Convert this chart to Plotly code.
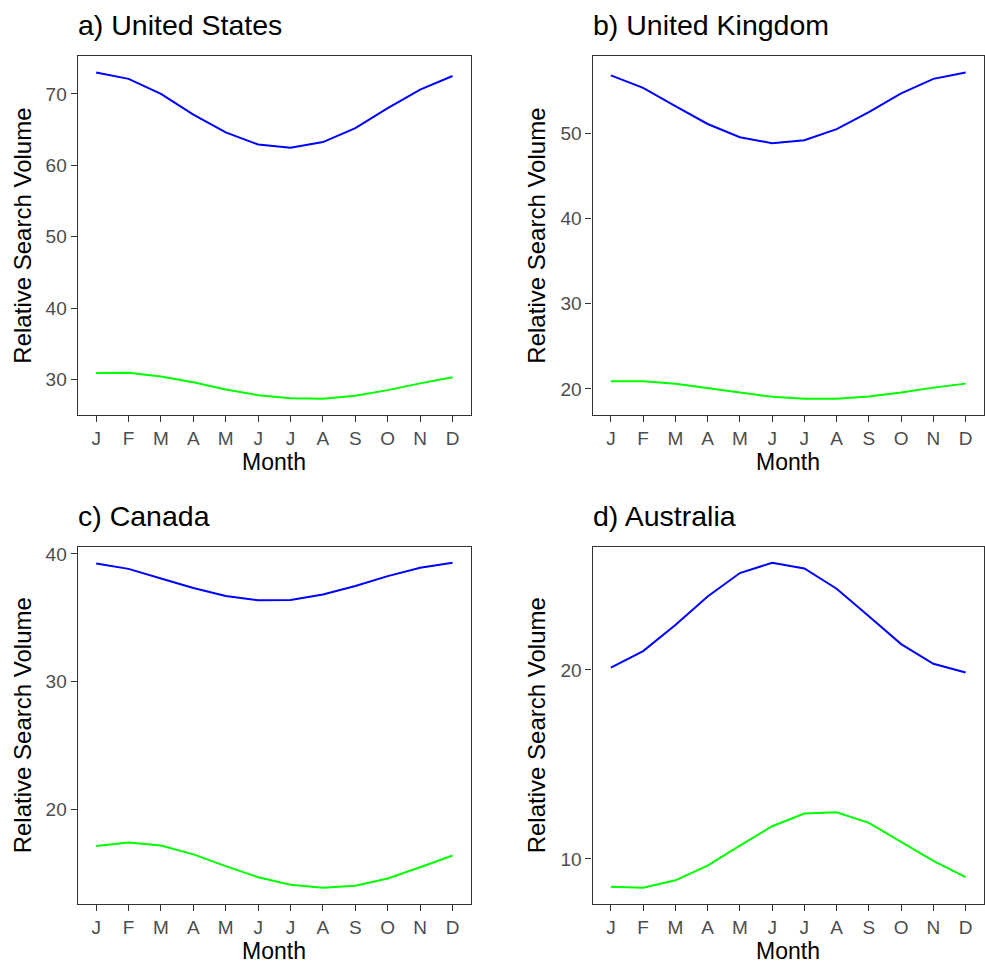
import plotly.graph_objects as go

months = ["J", "F", "M", "A", "M", "J", "J", "A", "S", "O", "N", "D"]

titles = ["a) United States", "b) United Kingdom", "c) Canada", "d) Australia"]

us_blue = [73.0, 72.1, 70.0, 67.1, 64.6, 62.9, 62.45, 63.25, 65.2, 68.0, 70.6, 72.5]
us_green = [30.9, 30.95, 30.4, 29.6, 28.6, 27.8, 27.35, 27.3, 27.7, 28.5, 29.45, 30.3]

uk_blue = [56.8, 55.35, 53.2, 51.1, 49.55, 48.85, 49.2, 50.5, 52.5, 54.7, 56.4, 57.15]
uk_green = [20.9, 20.9, 20.6, 20.1, 19.55, 19.07, 18.85, 18.85, 19.1, 19.57, 20.15, 20.62]

ca_blue = [39.25, 38.83, 38.08, 37.33, 36.71, 36.37, 36.4, 36.82, 37.49, 38.26, 38.91, 39.3]
ca_green = [17.15, 17.43, 17.2, 16.5, 15.58, 14.72, 14.13, 13.9, 14.05, 14.62, 15.5, 16.41]

au_blue = [20.12, 21.0, 22.38, 23.89, 25.13, 25.67, 25.37, 24.3, 22.84, 21.37, 20.33, 19.87]
au_green = [8.53, 8.48, 8.87, 9.65, 10.7, 11.73, 12.4, 12.47, 11.91, 10.91, 9.9, 9.04]

panels = [(us_blue, us_green), (uk_blue, uk_green), (ca_blue, ca_green), (au_blue, au_green)]

W, H = 985, 965
xdom = [[77.7 / W, 471 / W], [592.5 / W, 984 / W]]
ydom = [[1 - 413.3 / H, 1 - 53.3 / H], [1 - 903.7 / H, 1 - 545.3 / H]]

FONT = "Liberation Sans, Arial, Helvetica, sans-serif"
xs = list(range(len(months)))

fig = go.Figure()
layout = dict(
    width=W, height=H,
    margin=dict(l=0, r=0, t=0, b=0),
    paper_bgcolor="white", plot_bgcolor="white",
    showlegend=False,
    font=dict(family=FONT),
    annotations=[],
)

for i, (blue, green) in enumerate(panels):
    r, c = divmod(i, 2)
    sfx = "" if i == 0 else str(i + 1)
    fig.add_trace(go.Scatter(x=xs, y=blue, mode="lines", line=dict(color="#0000FF", width=2),
                             xaxis="x" + sfx, yaxis="y" + sfx))
    fig.add_trace(go.Scatter(x=xs, y=green, mode="lines", line=dict(color="#00FF00", width=2),
                             xaxis="x" + sfx, yaxis="y" + sfx))
    lo = min(min(blue), min(green))
    hi = max(max(blue), max(green))
    pad = 0.05 * (hi - lo)
    axis_common = dict(
        showline=True, linecolor="#333333", linewidth=1.3, mirror=True,
        showgrid=False, zeroline=False,
        ticks="outside", ticklen=6, tickwidth=1.3, tickcolor="#333333",
        tickfont=dict(family=FONT, size=19, color="#4D4D4D"),
    )
    layout["xaxis" + sfx] = dict(
        axis_common, domain=xdom[c], anchor="y" + sfx,
        range=[-0.57, len(months) - 1 + 0.57],
        tickmode="array", tickvals=xs, ticktext=months,
    )
    layout["yaxis" + sfx] = dict(
        axis_common, domain=ydom[r], anchor="x" + sfx,
        range=[lo - pad, hi + pad], tick0=0, dtick=10,
        title=dict(text="Relative Search Volume", font=dict(family=FONT, size=24, color="black"), standoff=7),
    )
    # panel title
    layout["annotations"].append(dict(
        text=titles[i], xref="paper", yref="paper",
        x=xdom[c][0] - 2 / W, xanchor="left",
        y=ydom[r][1] + 13 / H, yanchor="bottom",
        showarrow=False, font=dict(family=FONT, size=28.5, color="black"),
    ))
    # x-axis title
    if r == 0:
        ty, tanchor = ydom[r][0] - 47 / H, "middle"
    else:
        ty, tanchor = 0, "bottom"
    layout["annotations"].append(dict(
        text="Month", xref="paper", yref="paper",
        x=(xdom[c][0] + xdom[c][1]) / 2, xanchor="center",
        y=ty, yanchor=tanchor, borderpad=0,
        showarrow=False, font=dict(family=FONT, size=23, color="black"),
    ))

fig.update_layout(**layout)
fig.write_html("out.html")
